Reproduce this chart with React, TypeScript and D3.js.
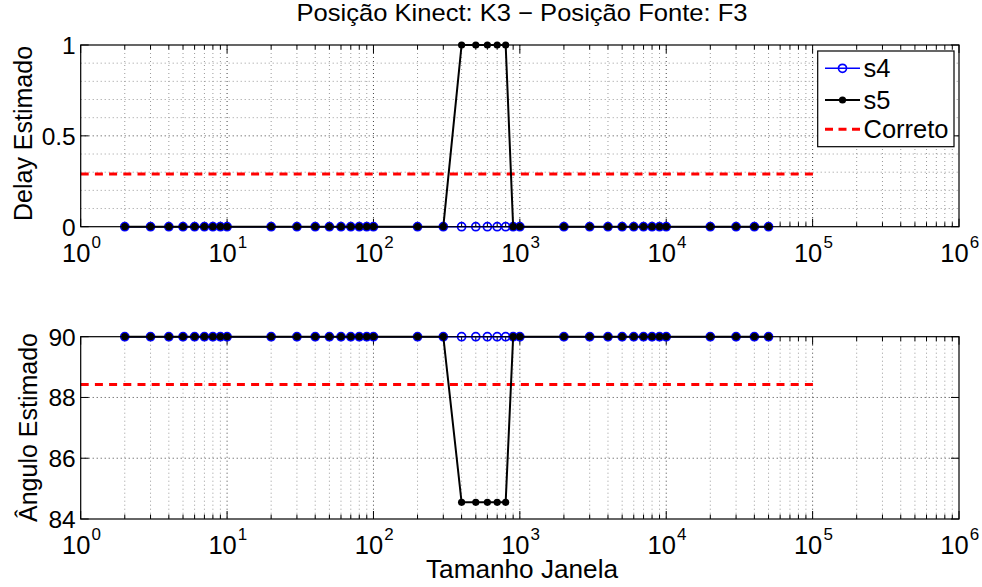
import React from "react";
import * as d3 from "d3";

const xValues = [2,3,4,5,6,7,8,9,10,20,30,40,50,60,70,80,90,100,200,300,400,500,600,700,800,900,1000,2000,3000,4000,5000,6000,7000,8000,9000,10000,20000,30000,40000,50000];
const s4Delay = xValues.map(() => 0);
const s5Delay = [0,0,0,0,0,0,0,0,0,0,0,0,0,0,0,0,0,0,0,0,1,1,1,1,1,0,0,0,0,0,0,0,0,0,0,0,0,0,0,0];
const s4Angle = xValues.map(() => 90);
const s5Angle = [90,90,90,90,90,90,90,90,90,90,90,90,90,90,90,90,90,90,90,90,84.55,84.55,84.55,84.55,84.55,90,90,90,90,90,90,90,90,90,90,90,90,90,90,90];
const corretoX = [1, 110000];
const corretoDelay = 0.29;
const corretoAngle = 88.43;
const xTickExps = [0, 1, 2, 3, 4, 5, 6];
const delayTicks = [0, 0.5, 1];
const delayMinorGrid = [0.1, 0.2, 0.3, 0.4, 0.6, 0.7, 0.8, 0.9];
const angleTicks = [84, 86, 88, 90];

const FONT = "'Liberation Sans', Arial, Helvetica, sans-serif";
const X0 = 80.7, X1 = 959;

const x = d3.scaleLog().domain([1, 1e6]).range([X0, X1]);
const minorX: number[] = [];
for (let e = 0; e < 6; e++) for (let m = 2; m <= 9; m++) minorX.push(m * Math.pow(10, e));

type PanelProps = {
  y: d3.ScaleLinear<number, number>;
  yTicks: number[];
  yMinor: number[];
  s4: number[];
  s5: number[];
  corr: number;
  fmt: (v: number) => string;
};

function Panel({ y, yTicks, yMinor, s4, s5, corr, fmt }: PanelProps) {
  const [yb, yt] = y.range();
  const line = d3.line<[number, number]>().x(d => x(d[0])).y(d => y(d[1]));
  const pts4 = xValues.map((v, i) => [v, s4[i]] as [number, number]);
  const pts5 = xValues.map((v, i) => [v, s5[i]] as [number, number]);
  const corrPts = corretoX.map(v => [v, corr] as [number, number]);
  return (
    <g>
      <rect x={X0} y={yt} width={X1 - X0} height={yb - yt} fill="#fff" />
      {minorX.map((v, i) => (
        <line key={"mx" + i} x1={x(v)} x2={x(v)} y1={yt} y2={yb} stroke="#999" strokeWidth={1} strokeDasharray="1,3" />
      ))}
      {xTickExps.slice(1, -1).map(e => (
        <line key={"Mx" + e} x1={x(Math.pow(10, e))} x2={x(Math.pow(10, e))} y1={yt} y2={yb} stroke="#444" strokeWidth={1} strokeDasharray="1,3" />
      ))}
      {yMinor.map((v, i) => (
        <line key={"my" + i} x1={X0} x2={X1} y1={y(v)} y2={y(v)} stroke="#999" strokeWidth={1} strokeDasharray="1,3" />
      ))}
      {yTicks.slice(1, -1).map((v, i) => (
        <line key={"My" + i} x1={X0} x2={X1} y1={y(v)} y2={y(v)} stroke="#444" strokeWidth={1} strokeDasharray="1,3" />
      ))}
      {minorX.map((v, i) => (
        <g key={"mt" + i}>
          <line x1={x(v)} x2={x(v)} y1={yb} y2={yb - 4.5} stroke="#000" />
          <line x1={x(v)} x2={x(v)} y1={yt} y2={yt + 4.5} stroke="#000" />
        </g>
      ))}
      {xTickExps.map(e => (
        <g key={"Mt" + e}>
          <line x1={x(Math.pow(10, e))} x2={x(Math.pow(10, e))} y1={yb} y2={yb - 8} stroke="#000" />
          <line x1={x(Math.pow(10, e))} x2={x(Math.pow(10, e))} y1={yt} y2={yt + 8} stroke="#000" />
          <text x={x(Math.pow(10, e)) - 4.5} y={yb + 35} textAnchor="middle" fontFamily={FONT} fontSize={25.5}>
            10
          </text>
          <text x={x(Math.pow(10, e)) + 15.5} y={yb + 21} textAnchor="middle" fontFamily={FONT} fontSize={17}>
            {e}
          </text>
        </g>
      ))}
      {yTicks.map((v, i) => (
        <g key={"yt" + i}>
          <line x1={X0} x2={X0 + 8} y1={y(v)} y2={y(v)} stroke="#000" />
          <line x1={X1} x2={X1 - 8} y1={y(v)} y2={y(v)} stroke="#000" />
          <text x={X0 - 5} y={y(v)} dy="0.36em" textAnchor="end" fontFamily={FONT} fontSize={24.5}>
            {fmt(v)}
          </text>
        </g>
      ))}
      <path d={line(corrPts) || ""} fill="none" stroke="#ff0000" strokeWidth={3} strokeDasharray="8,6.2" />
      <path d={line(pts4) || ""} fill="none" stroke="#0000ff" strokeWidth={1.5} />
      {pts4.map((p, i) => (
        <circle key={"c4" + i} cx={x(p[0])} cy={y(p[1])} r={4} fill="none" stroke="#0000ff" strokeWidth={1.7} />
      ))}
      <path d={line(pts5) || ""} fill="none" stroke="#000" strokeWidth={2} />
      {pts5.map((p, i) => (
        <circle key={"c5" + i} cx={x(p[0])} cy={y(p[1])} r={3.6} fill="#000" />
      ))}
      <rect x={X0} y={yt} width={X1 - X0} height={yb - yt} fill="none" stroke="#000" strokeWidth={1.2} />
    </g>
  );
}

export default function App() {
  const yTop = d3.scaleLinear().domain([0, 1]).range([226.7, 45]);
  const yBot = d3.scaleLinear().domain([84, 90]).range([519, 336.7]);
  const lx0 = 825, lx1 = 860, lxm = 842.5;
  return (
    <svg width={982} height={587} style={{ position: "absolute", left: 0, top: 0, background: "#fff" }}>
      <rect width={982} height={587} fill="#fff" />
      <text x={522} y={20.5} textAnchor="middle" fontFamily={FONT} fontSize={24} textLength={451} lengthAdjust="spacingAndGlyphs">
        Posição Kinect: K3 − Posição Fonte: F3
      </text>
      <Panel y={yTop} yTicks={delayTicks} yMinor={delayMinorGrid} s4={s4Delay} s5={s5Delay} corr={corretoDelay} fmt={v => String(v)} />
      <Panel y={yBot} yTicks={angleTicks} yMinor={[]} s4={s4Angle} s5={s5Angle} corr={corretoAngle} fmt={v => String(v)} />
      <text transform="translate(32,133.5) rotate(-90)" textAnchor="middle" fontFamily={FONT} fontSize={25}>
        Delay Estimado
      </text>
      <text transform="translate(36.5,427.5) rotate(-90)" textAnchor="middle" fontFamily={FONT} fontSize={25}>
        Ângulo Estimado
      </text>
      <text x={522} y={578} textAnchor="middle" fontFamily={FONT} fontSize={25} textLength={192} lengthAdjust="spacingAndGlyphs">
        Tamanho Janela
      </text>
      <g>
        <rect x={817.7} y={51} width={136.3} height={95.7} fill="#fff" stroke="#000" strokeWidth={1.2} />
        <line x1={lx0} x2={lx1} y1={68.3} y2={68.3} stroke="#0000ff" strokeWidth={1.5} />
        <circle cx={lxm} cy={68.3} r={4} fill="none" stroke="#0000ff" strokeWidth={1.7} />
        <text x={863.5} y={68.3} dy="0.36em" fontFamily={FONT} fontSize={25.5}>s4</text>
        <line x1={lx0} x2={lx1} y1={100} y2={100} stroke="#000" strokeWidth={2} />
        <circle cx={lxm} cy={100} r={3.6} fill="#000" />
        <text x={863.5} y={100} dy="0.36em" fontFamily={FONT} fontSize={25.5}>s5</text>
        <line x1={lx0} x2={lx1} y1={129.3} y2={129.3} stroke="#ff0000" strokeWidth={3} strokeDasharray="8,5.5" />
        <text x={863.5} y={129.3} dy="0.36em" fontFamily={FONT} fontSize={25.5}>Correto</text>
      </g>
    </svg>
  );
}
